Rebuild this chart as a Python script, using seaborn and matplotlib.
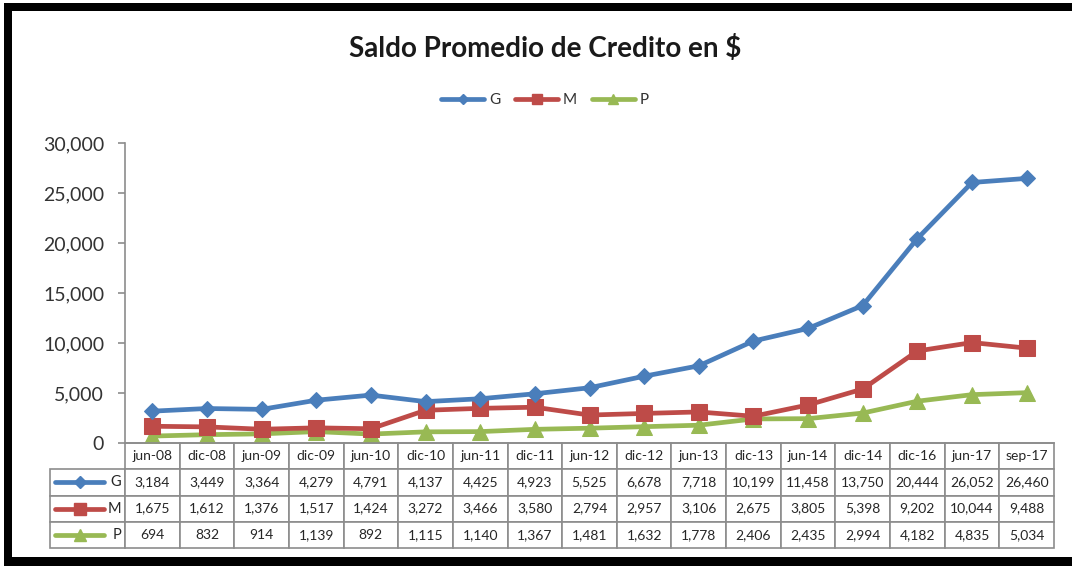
import numpy as np
import pandas as pd
import matplotlib
matplotlib.use("Agg")
import matplotlib.pyplot as plt
import seaborn as sns
from matplotlib.lines import Line2D
from matplotlib.patches import Rectangle
from matplotlib.ticker import FuncFormatter

# ---------------- data ----------------
periodos = ["jun-08", "dic-08", "jun-09", "dic-09", "jun-10", "dic-10", "jun-11", "dic-11",
            "jun-12", "dic-12", "jun-13", "dic-13", "jun-14", "dic-14", "dic-16", "jun-17", "sep-17"]
g_vals = [3184, 3449, 3364, 4279, 4791, 4137, 4425, 4923, 5525, 6678, 7718, 10199, 11458,
          13750, 20444, 26052, 26460]
m_vals = [1675, 1612, 1376, 1517, 1424, 3272, 3466, 3580, 2794, 2957, 3106, 2675, 3805,
          5398, 9202, 10044, 9488]
p_vals = [694, 832, 914, 1139, 892, 1115, 1140, 1367, 1481, 1632, 1778, 2406, 2435,
          2994, 4182, 4835, 5034]
series_names = ["G", "M", "P"]
y_ticks = [0, 5000, 10000, 15000, 20000, 25000, 30000]
title_text = "Saldo Promedio de Credito en $"

# ---------------- style ----------------
sns.set_theme(style="white")
plt.rcParams["font.family"] = ["Lato", "DejaVu Sans"]

W, H = 1076, 566
fig = plt.figure(figsize=(W / 100, H / 100), dpi=100)
fig.patch.set_facecolor("white")

ax_left, ax_right, ax_top, ax_bot = 125, 1054, 143, 443
ax = fig.add_axes([ax_left / W, 1 - ax_bot / H, (ax_right - ax_left) / W, (ax_bot - ax_top) / H])

colors = {"G": "#4A7EBB", "M": "#BE4B48", "P": "#98B954"}
markers = {"G": "D", "M": "s", "P": "^"}
msizes = {"G": 8, "M": 11, "P": 11}

vals_by = {"G": g_vals, "M": m_vals, "P": p_vals}
df = pd.DataFrame({
    "pos": np.tile(np.arange(len(periodos)), 3),
    "periodo": periodos * 3,
    "serie": np.repeat(series_names, len(periodos)),
    "valor": g_vals + m_vals + p_vals,
})

for s in ["P", "M", "G"]:
    sub = df[df["serie"] == s]
    sns.lineplot(data=sub, x="pos", y="valor", ax=ax, color=colors[s], marker=markers[s],
                 markersize=msizes[s], markeredgecolor=colors[s], linewidth=3.4,
                 legend=False, sort=False, zorder=3 if s == "G" else 2)

ax.set_xlim(-0.5, len(periodos) - 0.5)
ax.set_ylim(0, 30000)
ax.set_yticks(y_ticks)
ax.yaxis.set_major_formatter(FuncFormatter(lambda v, p: f"{v:,.0f}"))
ax.set_xticks([])
ax.set_xlabel("")
ax.set_ylabel("")
for sp in ["top", "right"]:
    ax.spines[sp].set_visible(False)
for sp in ["left", "bottom"]:
    ax.spines[sp].set_color("#8C8C8C")
    ax.spines[sp].set_linewidth(1.2)
ax.tick_params(axis="y", left=True, length=5, width=1.2, color="#8C8C8C", direction="out",
               pad=10, labelsize=14, labelcolor="#333333")

# ---------------- data table ----------------
lw = 75 / (ax_right - ax_left)
tab_h = 105 / (ax_bot - ax_top)
cell_text = [[""] + periodos]
for s in series_names:
    cell_text.append([""] + [f"{v:,}" for v in vals_by[s]])
n = len(periodos)
tbl = ax.table(cellText=cell_text, colWidths=[lw] + [1 / n] * n,
               bbox=[-lw, -tab_h, 1 + lw, tab_h], cellLoc="center")
tbl.auto_set_font_size(False)
tbl.set_fontsize(10)
for (r, c), cell in tbl.get_celld().items():
    cell.set_edgecolor("#8C8C8C")
    cell.set_linewidth(1.2)
    cell.get_text().set_color("#262626")
tbl[0, 0].visible_edges = "open"

row_h = tab_h / 4
for i, s in enumerate(series_names):
    yc = -tab_h + (4 - (i + 1) - 0.5) * row_h
    x0 = (55 - ax_left) / (ax_right - ax_left)
    x1 = (104 - ax_left) / (ax_right - ax_left)
    ax.add_line(Line2D([x0, (x0 + x1) / 2, x1], [yc, yc, yc], transform=ax.transAxes,
                       color=colors[s], linewidth=3.4, marker=markers[s], markevery=[1],
                       markersize=msizes[s] * 0.8, markeredgecolor=colors[s], clip_on=False))
    ax.text(-0.004, yc, s, transform=ax.transAxes, ha="right", va="center",
            fontsize=10.5, color="#262626")

# ---------------- legend & title ----------------
handles = [Line2D([], [], color=colors[s], linewidth=3.4, marker=markers[s],
                  markersize=msizes[s] * 0.65, markeredgecolor=colors[s]) for s in series_names]
fig.legend(handles, series_names, loc="center", bbox_to_anchor=(545 / W, 1 - 100 / H),
           ncol=3, frameon=False, handlelength=2.8, columnspacing=1.0, handletextpad=0.3,
           fontsize=11, labelcolor="#333333")
fig.text(545 / W, 1 - 48 / H, title_text, ha="center", va="center", fontsize=20,
         fontweight="bold", color="#1A1A1A")

# ---------------- black frame ----------------
def px_rect(x0, y0, x1, y1):
    return Rectangle((x0 / W, 1 - y1 / H), (x1 - x0) / W, (y1 - y0) / H,
                     transform=fig.transFigure, facecolor="black", edgecolor="none")

fig.patches.extend([
    px_rect(4, 3, 1072, 11),
    px_rect(4, 3, 12, 566),
    px_rect(4, 557, 1072, 566),
])

fig.savefig("out.png", dpi=100, facecolor="white")
